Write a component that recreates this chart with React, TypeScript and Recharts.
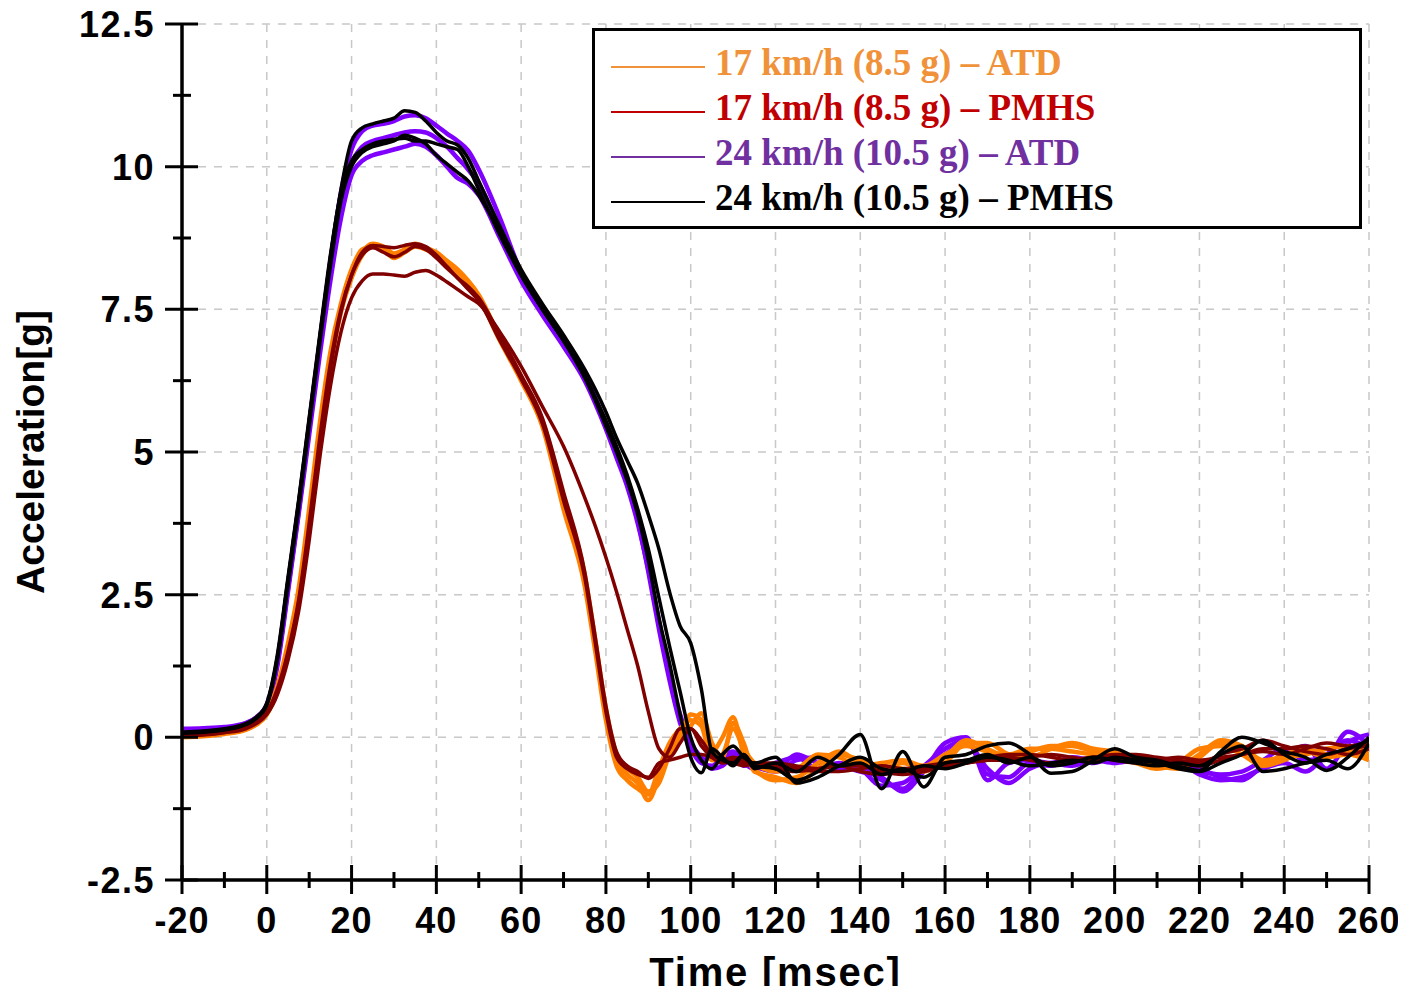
import { LineChart, Line, XAxis, YAxis, CartesianGrid, Label } from 'recharts';

// sample times (ms) shared by every trace
const TIME = [
  -20, -15, -10, -5, -2.5, 0,
  2.5, 5, 7.5, 10, 12.5, 15, 17.5, 20,
  22.5, 25, 27.5, 30, 32.5, 35, 37.5, 40, 42.5, 45, 47.5, 50,
  55, 60, 65, 70, 75,
  77.5, 80, 82.5, 85, 87.5, 90, 92.5, 95, 97.5, 100, 102.5, 105, 107.5, 110, 112.5, 115,
  120, 125, 130, 135, 140, 145, 150, 155, 160, 165, 170, 175, 180, 185, 190, 195, 200,
  205, 210, 215, 220, 225, 230, 235, 240, 245, 250, 255, 260,
];

// 17 km/h ATD
const ATD17_A = [
  0.0, 0.02, 0.06, 0.13, 0.22, 0.4,
  0.85, 1.55, 2.45, 3.8, 5.35, 6.6, 7.5, 8.1,
  8.5, 8.65, 8.6, 8.48, 8.55, 8.65, 8.58, 8.5, 8.35, 8.2, 8.0, 7.75,
  7.0, 6.3, 5.5, 4.1, 2.75,
  1.6, 0.4, -0.4, -0.65, -0.8, -1.1, -0.7, -0.2, 0.05, 0.4, 0.3, -0.25, 0.0, 0.35, -0.3, -0.55,
  -0.75, -0.7, -0.45, -0.25, -0.45, -0.5, -0.55, -0.6, -0.35, -0.05, -0.2, -0.35, -0.25, -0.15, -0.15,
  -0.25, -0.3, -0.4, -0.5, -0.55, -0.35, -0.1, -0.2, -0.45, -0.3, -0.2, -0.3, -0.25, -0.35,
];
const ATD17_B = [
  0.02, 0.04, 0.08, 0.15, 0.24, 0.43,
  0.9, 1.65, 2.6, 4.0, 5.5, 6.75, 7.6, 8.2,
  8.55, 8.6, 8.55, 8.45, 8.5, 8.6, 8.55, 8.45, 8.3, 8.15, 7.95, 7.7,
  6.95, 6.25, 5.45, 4.0, 2.65,
  1.5, 0.3, -0.5, -0.75, -0.9, -1.0, -0.55, -0.1, 0.15, 0.3, 0.2, -0.4, -0.3, 0.15, -0.2, -0.45,
  -0.6, -0.55, -0.3, -0.35, -0.5, -0.45, -0.4, -0.5, -0.3, -0.15, -0.25, -0.3, -0.2, -0.2, -0.25,
  -0.3, -0.35, -0.45, -0.55, -0.45, -0.2, -0.15, -0.3, -0.5, -0.4, -0.25, -0.35, -0.3, -0.4,
];
const ATD17_C = [
  0.01, 0.03, 0.07, 0.14, 0.23, 0.41,
  0.8, 1.5, 2.4, 3.7, 5.2, 6.5, 7.45, 8.05,
  8.45, 8.6, 8.55, 8.4, 8.5, 8.62, 8.55, 8.48, 8.32, 8.15, 7.98, 7.72,
  7.02, 6.32, 5.55, 4.2, 2.85,
  1.7, 0.5, -0.3, -0.55, -0.7, -0.95, -0.8, -0.3, 0.0, 0.2, 0.42, -0.1, -0.35, 0.25, -0.1, -0.6,
  -0.7, -0.8, -0.55, -0.3, -0.4, -0.55, -0.45, -0.55, -0.45, -0.1, -0.1, -0.3, -0.35, -0.2, -0.1,
  -0.2, -0.25, -0.35, -0.45, -0.5, -0.3, -0.05, -0.15, -0.4, -0.35, -0.3, -0.2, -0.15, -0.3,
];

// 17 km/h PMHS
const PMHS17_A = [
  0.03, 0.05, 0.09, 0.16, 0.25, 0.42,
  0.8, 1.45, 2.35, 3.65, 5.15, 6.45, 7.45, 8.1,
  8.5, 8.62, 8.6, 8.58, 8.62, 8.65, 8.6, 8.45, 8.25, 8.05, 7.9, 7.7,
  7.05, 6.35, 5.6, 4.3, 2.9,
  1.75, 0.55, -0.25, -0.5, -0.6, -0.72, -0.55, -0.2, 0.15, 0.15, -0.15, -0.35, -0.45, -0.4, -0.45, -0.5,
  -0.5, -0.55, -0.6, -0.6, -0.55, -0.5, -0.55, -0.5, -0.45, -0.4, -0.35, -0.3, -0.3, -0.35, -0.4,
  -0.35, -0.3, -0.3, -0.35, -0.4, -0.45, -0.3, -0.2, -0.05, -0.15, -0.25, -0.3, -0.2, -0.15,
];
const PMHS17_B = [
  0.02, 0.04, 0.08, 0.15, 0.24, 0.4,
  0.75, 1.35, 2.2, 3.45, 4.9, 6.15, 7.1, 7.7,
  8.0, 8.12, 8.12, 8.1, 8.08, 8.15, 8.18, 8.1, 7.98, 7.85, 7.72, 7.6,
  7.1, 6.5, 5.8, 5.1, 4.2,
  3.7, 3.15, 2.55, 1.9, 1.25, 0.45, -0.2, -0.35, -0.1, 0.15, -0.05, -0.3, -0.4, -0.45, -0.5, -0.45,
  -0.55, -0.6, -0.55, -0.5, -0.6, -0.65, -0.6, -0.55, -0.5, -0.45, -0.4, -0.35, -0.4, -0.45, -0.4,
  -0.35, -0.4, -0.45, -0.4, -0.35, -0.4, -0.35, -0.3, -0.2, -0.2, -0.15, -0.2, -0.3, -0.2,
];
const PMHS17_C = [
  0.04, 0.06, 0.1, 0.17, 0.26, 0.44,
  0.85, 1.5, 2.4, 3.75, 5.25, 6.55, 7.5, 8.1,
  8.45, 8.58, 8.5, 8.42, 8.5, 8.6, 8.55, 8.4, 8.22, 8.05, 7.85, 7.65,
  6.95, 6.28, 5.5, 4.15, 2.8,
  1.65, 0.45, -0.35, -0.55, -0.65, -0.7, -0.45, -0.4, -0.35, -0.3, -0.3, -0.35, -0.4, -0.35, -0.4, -0.45,
  -0.45, -0.5, -0.55, -0.5, -0.5, -0.6, -0.65, -0.6, -0.5, -0.45, -0.4, -0.4, -0.35, -0.3, -0.35,
  -0.4, -0.35, -0.35, -0.4, -0.45, -0.5, -0.4, -0.3, -0.25, -0.3, -0.2, -0.1, -0.15, -0.1,
];

// 24 km/h ATD
const ATD24_A = [
  0.15, 0.16, 0.18, 0.25, 0.35, 0.58,
  1.35, 2.7, 4.05, 5.5, 6.95, 8.35, 9.55, 10.3,
  10.62, 10.72, 10.75, 10.8, 10.88, 10.9, 10.85, 10.72, 10.58, 10.45, 10.28, 9.95,
  9.1, 8.15, 7.55, 7.0, 6.35,
  5.95, 5.5, 5.0, 4.5, 3.85, 3.0, 2.0, 1.1, 0.35, -0.1, -0.4, -0.35, -0.45, -0.3, -0.5, -0.45,
  -0.55, -0.3, -0.45, -0.5, -0.6, -0.7, -0.95, -0.6, -0.1, 0.0, -0.75, -0.45, -0.4, -0.45, -0.35,
  -0.4, -0.3, -0.35, -0.4, -0.5, -0.55, -0.7, -0.75, -0.5, -0.3, -0.15, -0.55, -0.1, 0.05,
];
const ATD24_B = [
  0.12, 0.13, 0.16, 0.24, 0.34, 0.56,
  1.3, 2.6, 3.95, 5.4, 6.85, 8.2, 9.3, 10.05,
  10.35, 10.45, 10.5, 10.55, 10.6, 10.62, 10.6, 10.5, 10.35, 10.15, 9.95, 9.7,
  8.9, 8.05, 7.45, 6.9, 6.3,
  5.9, 5.45, 4.95, 4.45, 3.8, 2.9, 1.9, 1.0, 0.25, -0.2, -0.45, -0.5, -0.35, -0.25, -0.45, -0.55,
  -0.45, -0.35, -0.55, -0.45, -0.55, -0.85, -0.8, -0.5, -0.2, -0.05, -0.65, -0.7, -0.45, -0.5, -0.4,
  -0.45, -0.35, -0.4, -0.45, -0.5, -0.6, -0.65, -0.6, -0.4, -0.2, -0.4, -0.35, 0.1, -0.15,
];
const ATD24_C = [
  0.1, 0.12, 0.15, 0.22, 0.32, 0.53,
  1.25, 2.55, 3.9, 5.3, 6.7, 8.0, 9.1, 9.85,
  10.1, 10.2, 10.25, 10.3, 10.35, 10.4, 10.35, 10.2, 10.0, 9.8, 9.7, 9.5,
  8.75, 8.0, 7.4, 6.85, 6.25,
  5.85, 5.4, 4.9, 4.4, 3.75, 2.95, 2.05, 1.15, 0.4, -0.1, -0.35, -0.55, -0.5, -0.35, -0.4, -0.5,
  -0.6, -0.4, -0.35, -0.55, -0.5, -0.75, -0.9, -0.55, -0.3, -0.1, -0.55, -0.8, -0.55, -0.45, -0.5,
  -0.4, -0.45, -0.4, -0.5, -0.45, -0.65, -0.75, -0.7, -0.55, -0.45, -0.6, -0.3, -0.05, -0.2,
];

// 24 km/h PMHS
const PMHS24_A = [
  0.08, 0.1, 0.14, 0.23, 0.34, 0.58,
  1.4, 2.75, 4.1, 5.55, 7.0, 8.4, 9.6, 10.45,
  10.68, 10.75, 10.8, 10.85, 10.98, 10.95, 10.8, 10.6, 10.45, 10.38, 10.15, 9.75,
  8.95, 8.2, 7.6, 7.05, 6.45,
  6.1, 5.7, 5.25, 4.85, 4.45, 3.9, 3.3, 2.55, 1.95, 1.65, 0.85, -0.25, -0.4, -0.45, -0.3, -0.5,
  -0.55, -0.75, -0.6, -0.3, 0.05, -0.9, -0.25, -0.87, -0.35, -0.3, -0.15, -0.1, -0.3, -0.63, -0.6,
  -0.4, -0.2, -0.35, -0.4, -0.5, -0.58, -0.25, 0.0, -0.1, -0.25, -0.35, -0.58, -0.35, 0.0,
];
const PMHS24_B = [
  0.07, 0.09, 0.13, 0.22, 0.33, 0.56,
  1.35, 2.65, 4.0, 5.45, 6.9, 8.25, 9.4, 10.0,
  10.25, 10.35, 10.4, 10.45, 10.55, 10.5, 10.4, 10.2, 10.05, 9.9, 9.75, 9.5,
  8.85, 8.1, 7.5, 6.95, 6.3,
  5.9, 5.45, 5.0, 4.5, 3.9, 3.1, 2.1, 1.3, 0.4, -0.35, -0.62, -0.2, -0.35, -0.5, -0.3, -0.55,
  -0.45, -0.6, -0.35, -0.5, -0.45, -0.65, -0.55, -0.7, -0.45, -0.4, -0.3, -0.45, -0.35, -0.5, -0.45,
  -0.35, -0.4, -0.45, -0.5, -0.45, -0.5, -0.3, -0.15, -0.6, -0.55, -0.45, -0.4, -0.55, -0.1,
];
const PMHS24_C = [
  0.09, 0.11, 0.15, 0.24, 0.35, 0.6,
  1.45, 2.8, 4.15, 5.6, 7.05, 8.45, 9.55, 10.1,
  10.3, 10.4, 10.45, 10.48, 10.5, 10.45, 10.45, 10.4, 10.35, 10.3, 10.0, 9.6,
  8.8, 8.1, 7.5, 6.95, 6.35,
  5.95, 5.55, 5.1, 4.6, 4.0, 3.3, 2.45, 1.6, 0.8, 0.0, -0.4, -0.55, -0.3, -0.15, -0.35, -0.45,
  -0.35, -0.8, -0.7, -0.5, -0.35, -0.55, -0.6, -0.5, -0.55, -0.45, -0.35, -0.4, -0.5, -0.45, -0.4,
  -0.45, -0.35, -0.4, -0.45, -0.55, -0.6, -0.45, -0.3, -0.05, -0.3, -0.45, -0.3, -0.2, -0.05,
];

const X_MAJOR = [-20, 0, 20, 40, 60, 80, 100, 120, 140, 160, 180, 200, 220, 240, 260];
const X_MINOR = [-10, 10, 30, 50, 70, 90, 110, 130, 150, 170, 190, 210, 230, 250];
const Y_MAJOR = [-2.5, 0, 2.5, 5, 7.5, 10, 12.5];
const Y_MINOR = [-1.25, 1.25, 3.75, 6.25, 8.75, 11.25];

const GROUPS = [
  { name: '17 km/h (8.5 g) – ATD', line: '#FF8000', text: '#F0923A', width: 4.5 },
  { name: '17 km/h (8.5 g) – PMHS', line: '#800000', text: '#C00000', width: 3.5 },
  { name: '24 km/h (10.5 g) – ATD', line: '#8000FF', text: '#7030A0', width: 4.5 },
  { name: '24 km/h (10.5 g) – PMHS', line: '#000000', text: '#000000', width: 3.5 },
];

// drawing order: purple, orange, dark red, black on top
const SERIES = [
  { key: 'atd24a', group: 2, values: ATD24_A },
  { key: 'atd24b', group: 2, values: ATD24_B },
  { key: 'atd24c', group: 2, values: ATD24_C },
  { key: 'atd17a', group: 0, values: ATD17_A },
  { key: 'atd17b', group: 0, values: ATD17_B },
  { key: 'atd17c', group: 0, values: ATD17_C },
  { key: 'pmhs17a', group: 1, values: PMHS17_A },
  { key: 'pmhs17b', group: 1, values: PMHS17_B },
  { key: 'pmhs17c', group: 1, values: PMHS17_C },
  { key: 'pmhs24a', group: 3, values: PMHS24_A },
  { key: 'pmhs24b', group: 3, values: PMHS24_B },
  { key: 'pmhs24c', group: 3, values: PMHS24_C },
];

const data = TIME.map((t, i) => {
  const row: Record<string, number> = { t };
  SERIES.forEach((s) => {
    row[s.key] = s.values[i];
  });
  return row;
});

const SANS = '"Liberation Sans", Arial, sans-serif';
const SERIF = '"Liberation Serif", "Times New Roman", serif';

const XTick = ({ x, y, payload }: any) => {
  const major = X_MAJOR.includes(payload.value);
  return (
    <g>
      <line
        x1={x}
        x2={x}
        y1={major ? y - 15 : y - 8}
        y2={major ? y + 14 : y + 8}
        stroke="#000"
        strokeWidth={3}
      />
      {major && (
        <text
          x={x}
          y={y + 53}
          textAnchor="middle"
          fontSize={36}
          fontWeight="bold"
          fontFamily={SANS}
          letterSpacing={1}
          fill="#000"
        >
          {payload.value}
        </text>
      )}
    </g>
  );
};

const YTick = ({ x, y, payload }: any) => {
  const major = Y_MAJOR.includes(payload.value);
  return (
    <g>
      <line
        x1={major ? x - 17 : x - 9}
        x2={major ? x + 16 : x + 9}
        y1={y}
        y2={y}
        stroke="#000"
        strokeWidth={3}
      />
      {major && (
        <text
          x={x - 27}
          y={y + 13}
          textAnchor="end"
          fontSize={36}
          fontWeight="bold"
          fontFamily={SANS}
          letterSpacing={1.5}
          fill="#000"
        >
          {payload.value}
        </text>
      )}
    </g>
  );
};

const ChartLegend = () => (
  <div
    style={{
      position: 'absolute',
      left: 584,
      top: 28,
      width: 770,
      height: 201,
      boxSizing: 'border-box',
      border: '3px solid #000',
      background: '#fff',
      paddingTop: 9,
      paddingLeft: 16,
    }}
  >
    {GROUPS.map((g) => (
      <div key={g.name} style={{ display: 'flex', alignItems: 'center', height: 45 }}>
        <div style={{ width: 94, height: 2, background: g.text, marginTop: 8 }} />
        <span
          style={{
            marginLeft: 10,
            fontFamily: SERIF,
            fontWeight: 'bold',
            fontSize: 37,
            lineHeight: '45px',
            color: g.text,
            whiteSpace: 'nowrap',
          }}
        >
          {g.name}
        </span>
      </div>
    ))}
  </div>
);

export default function App() {
  return (
    <div style={{ position: 'relative', width: 1390, height: 986, marginTop: -8 }}>
      <LineChart width={1398} height={994} data={data} margin={{ top: 24, right: 37, bottom: 0, left: 0 }}>
        <CartesianGrid
          horizontalValues={Y_MAJOR}
          verticalValues={X_MAJOR}
          stroke="#C8C8C8"
          strokeDasharray="8 8"
          strokeWidth={1.5}
        />
        <XAxis
          dataKey="t"
          type="number"
          domain={[-20, 260]}
          ticks={[...X_MAJOR, ...X_MINOR].sort((a, b) => a - b)}
          interval={0}
          tickSize={0}
          tickMargin={0}
          tickLine={false}
          tick={(p: any) => <XTick {...p} />}
          axisLine={{ stroke: '#000', strokeWidth: 3.5 }}
          height={114}
          allowDataOverflow
        >
          <Label
            content={({ viewBox }: any) => (
              <text
                x={viewBox.x + viewBox.width / 2}
                y={viewBox.y + 106}
                textAnchor="middle"
                fontSize={40}
                fontWeight="bold"
                fontFamily={SANS}
                letterSpacing={1.8}
                fill="#000"
              >
                Time [msec]
              </text>
            )}
          />
        </XAxis>
        <XAxis
          xAxisId="top"
          orientation="top"
          type="number"
          domain={[-20, 260]}
          height={0}
          tick={false}
          tickLine={false}
          axisLine={{ stroke: '#000', strokeWidth: 3.5 }}
        />
        <YAxis
          type="number"
          domain={[-2.5, 12.5]}
          ticks={[...Y_MAJOR, ...Y_MINOR].sort((a, b) => a - b)}
          interval={0}
          tickSize={0}
          tickMargin={0}
          tickLine={false}
          tick={(p: any) => <YTick {...p} />}
          axisLine={{ stroke: '#000', strokeWidth: 3.5 }}
          width={174}
          allowDataOverflow
        >
          <Label
            content={({ viewBox }: any) => {
              const cx = viewBox.x + 22;
              const cy = viewBox.y + viewBox.height / 2;
              return (
                <text
                  x={cx}
                  y={cy}
                  transform={`rotate(-90 ${cx} ${cy})`}
                  textAnchor="middle"
                  dominantBaseline="central"
                  fontSize={39}
                  fontWeight="bold"
                  fontFamily={SANS}
                  fill="#000"
                >
                  Acceleration[g]
                </text>
              );
            }}
          />
        </YAxis>
        <YAxis
          yAxisId="right"
          orientation="right"
          type="number"
          domain={[-2.5, 12.5]}
          width={0}
          tick={false}
          tickLine={false}
          axisLine={{ stroke: '#000', strokeWidth: 3.5 }}
        />
        {SERIES.map((s) => (
          <Line
            key={s.key}
            dataKey={s.key}
            type="monotone"
            stroke={GROUPS[s.group].line}
            strokeWidth={GROUPS[s.group].width}
            dot={false}
            activeDot={false}
            isAnimationActive={false}
          />
        ))}
      </LineChart>
      <ChartLegend />
    </div>
  );
}
